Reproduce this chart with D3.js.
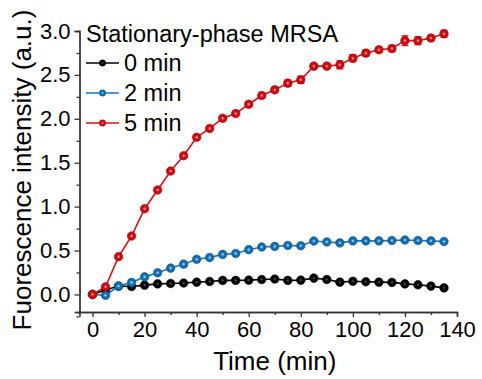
<!DOCTYPE html>
<html>
<head>
<meta charset="utf-8">
<script src="https://cdn.jsdelivr.net/npm/d3@7/dist/d3.min.js"></script>
<style>
  html, body { margin: 0; padding: 0; background: #fff; }
  svg { display: block; font-family: "Liberation Sans", Arial, sans-serif; }
</style>
</head>
<body>
<svg id="chart" width="482" height="379"></svg>
<script>
// Sampling times (min)
const times = [0, 5, 10, 15, 20, 25, 30, 35, 40, 45, 50, 55, 60, 65, 70,
               75, 80, 85, 90, 95, 100, 105, 110, 115, 120, 125, 130, 135];

// Fluorescence intensity for each light-exposure dose
const min0 = [0.00, 0.05, 0.095, 0.09, 0.106, 0.12, 0.125, 0.13, 0.14, 0.148, 0.16, 0.16, 0.163, 0.17, 0.175,
              0.16, 0.163, 0.186, 0.17, 0.14, 0.15, 0.145, 0.14, 0.137, 0.12, 0.11, 0.095, 0.075];
const min2 = [0.00, -0.01, 0.095, 0.137, 0.20, 0.247, 0.30, 0.345, 0.40, 0.42, 0.456, 0.467, 0.51, 0.54, 0.547,
              0.558, 0.555, 0.608, 0.598, 0.587, 0.61, 0.61, 0.61, 0.615, 0.62, 0.615, 0.61, 0.603];
const min5 = [0.00, 0.087, 0.43, 0.665, 0.976, 1.19, 1.405, 1.58, 1.79, 1.89, 2.007, 2.06, 2.166, 2.265, 2.33,
              2.406, 2.444, 2.60, 2.60, 2.615, 2.69, 2.748, 2.786, 2.80, 2.89, 2.89, 2.92, 2.968];
// Standard deviations of the 5 min series
const min5Err = [0.01, 0.02, 0.02, 0.02, 0.02, 0.02, 0.02, 0.02, 0.02, 0.02, 0.02, 0.02, 0.025, 0.025, 0.03,
                 0.035, 0.04, 0.02, 0.025, 0.045, 0.04, 0.035, 0.03, 0.035, 0.055, 0.045, 0.03, 0.04];

const seriesNames = ["0 min", "2 min", "5 min"];
const legendTitle = "Stationary-phase MRSA";
const xTicks = [0, 20, 40, 60, 80, 100, 120, 140];
const yTicks = [0.0, 0.5, 1.0, 1.5, 2.0, 2.5, 3.0];

const series = [
  { name: seriesNames[0], values: min0, err: null, color: "#000000", edge: "#000000", light: "#6a6a6a", id: "gBlack" },
  { name: seriesNames[1], values: min2, err: null, color: "#1a75b8", edge: "#0f5f9c", light: "#d8ecf8", id: "gBlue" },
  { name: seriesNames[2], values: min5, err: min5Err, color: "#d41018", edge: "#b8060c", light: "#f8d0d0", id: "gRed" }
];

const svg = d3.select("#chart");

const x = d3.scaleLinear().domain([-5, 140]).range([79.5, 457]);
const y = d3.scaleLinear().domain([-0.2, 3.0]).range([312, 31]);

// Ball-style marker fills
const defs = svg.append("defs");
series.forEach(s => {
  const g = defs.append("radialGradient").attr("id", s.id)
    .attr("cx", "50%").attr("cy", "50%").attr("r", "50%");
  g.append("stop").attr("offset", "0%").attr("stop-color", s.light);
  g.append("stop").attr("offset", "40%").attr("stop-color", s.color);
  g.append("stop").attr("offset", "100%").attr("stop-color", s.edge);
});

// Axes
const axisColor = "#333";
const xAxis = d3.axisBottom(x).tickValues(xTicks).tickSize(5).tickPadding(4).tickFormat(d3.format("d"));
const xMinor = d3.axisBottom(x).tickValues(d3.range(10, 140, 20)).tickSize(3).tickFormat("");
const yAxis = d3.axisLeft(y).tickValues(yTicks).tickSize(5).tickPadding(4).tickFormat(d3.format(".1f"));
const yMinor = d3.axisLeft(y).tickValues(d3.range(-0.25, 3.0, 0.5)).tickSize(3).tickFormat("");

function styleAxis(g) {
  g.select(".domain").attr("stroke", axisColor).attr("stroke-width", 1.3);
  g.selectAll(".tick line").attr("stroke", axisColor).attr("stroke-width", 1.3);
  g.selectAll(".tick text").attr("fill", "#000").style("font-size", "22px");
}

svg.append("g").attr("transform", "translate(0,312)").call(xMinor).call(styleAxis);
svg.append("g").attr("transform", "translate(0,312)").call(xAxis).call(styleAxis);
svg.append("g").attr("transform", "translate(79.5,0)").call(yMinor).call(styleAxis);
svg.append("g").attr("transform", "translate(79.5,0)").call(yAxis).call(styleAxis);

// Axis titles
svg.append("text")
  .attr("x", x(70)).attr("y", 370)
  .attr("text-anchor", "middle")
  .style("font-size", "26px")
  .text("Time (min)");

svg.append("text")
  .attr("transform", "translate(31,170) rotate(-90)")
  .attr("text-anchor", "middle")
  .style("font-size", "26px")
  .text("Fuorescence intensity (a.u.)");

// Series lines, error bars and markers
const line = d3.line().x((d, i) => x(times[i])).y(d => y(d));

series.forEach(s => {
  const g = svg.append("g");
  g.append("path")
    .datum(s.values)
    .attr("d", line)
    .attr("fill", "none")
    .attr("stroke", s.color)
    .attr("stroke-width", 1.6);

  if (s.err) {
    const eb = g.append("g").selectAll("g").data(s.values).join("g");
    eb.append("line")
      .attr("x1", (d, i) => x(times[i])).attr("x2", (d, i) => x(times[i]))
      .attr("y1", (d, i) => y(d - s.err[i])).attr("y2", (d, i) => y(d + s.err[i]))
      .attr("stroke", s.color).attr("stroke-width", 1.3);
    [-1, 1].forEach(sign => {
      eb.append("line")
        .attr("x1", (d, i) => x(times[i]) - 3.5).attr("x2", (d, i) => x(times[i]) + 3.5)
        .attr("y1", (d, i) => y(d + sign * s.err[i])).attr("y2", (d, i) => y(d + sign * s.err[i]))
        .attr("stroke", s.color).attr("stroke-width", 1.3);
    });
  }

  g.selectAll("circle").data(s.values).join("circle")
    .attr("cx", (d, i) => x(times[i]))
    .attr("cy", d => y(d))
    .attr("r", 4.3)
    .attr("fill", `url(#${s.id})`)
    .attr("stroke", s.edge)
    .attr("stroke-width", 0.6);
});

// Legend
const legend = svg.append("g");
legend.append("text")
  .attr("x", 86).attr("y", 42)
  .style("font-size", "23.5px")
  .text(legendTitle);

series.forEach((s, k) => {
  const ly = 63 + k * 30;
  legend.append("line")
    .attr("x1", 86).attr("x2", 119).attr("y1", ly).attr("y2", ly)
    .attr("stroke", s.color).attr("stroke-width", 1.6);
  legend.append("circle")
    .attr("cx", 102.5).attr("cy", ly).attr("r", 3.2)
    .attr("fill", `url(#${s.id})`)
    .attr("stroke", s.edge).attr("stroke-width", 0.5);
  legend.append("text")
    .attr("x", 124).attr("y", ly + 8)
    .style("font-size", "23.5px")
    .text(s.name);
});
</script>
</body>
</html>
